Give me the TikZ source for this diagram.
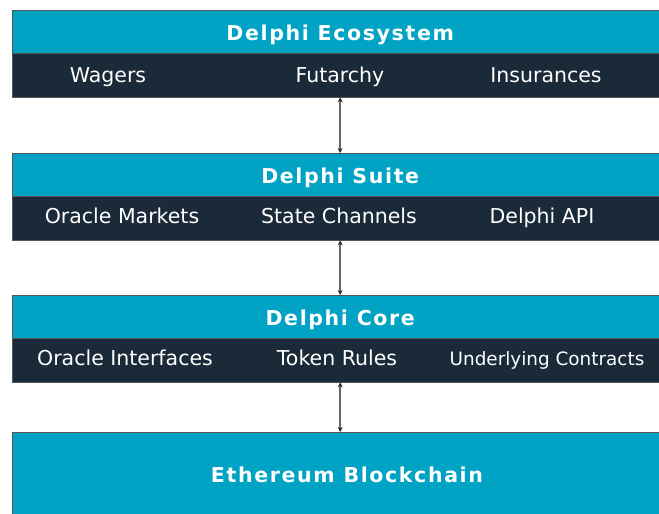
\documentclass[tikz,border=0pt]{standalone}
\usepackage{fontspec}
\setmainfont{DejaVu Sans}
\newfontfamily\titlefont[LetterSpace=8]{DejaVu Sans}
\usetikzlibrary{arrows.meta,positioning}
\definecolor{delphiblue}{HTML}{00A3C4}
\definecolor{delphidark}{HTML}{1B2A38}
\definecolor{edgegray}{HTML}{555555}
\tikzset{
  head/.style={draw=edgegray,fill=delphiblue,text=white,font=\titlefont\fontsize{20.5}{24}\selectfont\bfseries,
    text height=18.8pt,text depth=1.8pt,
    anchor=north west,minimum width=656pt,minimum height=43pt,inner sep=0pt},
  band/.style={draw=edgegray,fill=delphidark,anchor=north west,minimum width=656pt,minimum height=44pt,inner sep=0pt},
  item/.style={text=white,font=\fontsize{20.5}{24}\selectfont,text height=15.8pt,text depth=4.7pt,inner sep=0pt},
  link/.style={draw=black!60,line width=2pt,{Stealth[length=5pt,width=5pt,black!85]}-{Stealth[length=5pt,width=5pt,black!85]}}
}
\begin{document}
\begin{tikzpicture}[x=1pt,y=-1pt]
                \clip (0,0) rectangle (659,514);
                \fill[white] (0,0) rectangle (659,514);
                %% ecosystem
                \node[head] (eco) at (12,10) {Delphi Ecosystem};
                \node[band] (ecoband) at (12,53) {};
                \node[item] (wagers) at (108,76.5) {Wagers};
                \node[item] (futarchy) at (340,76.5) {Futarchy};
                \node[item] (insurances) at (546,76.5) {Insurances};
                %% suite
                \node[head] (suite) at (12,153) {Delphi Suite};
                \node[band] (suiteband) at (12,196) {};
                \node[item] (markets) at (122,217.5) {Oracle Markets};
                \node[item] (channels) at (339,217.5) {State Channels};
                \node[item] (api) at (542,217.5) {Delphi API};
                %% core
                \node[head] (core) at (12,295) {Delphi Core};
                \node[band] (coreband) at (12,338) {};
                \node[item] (interfaces) at (125,359.5) {Oracle Interfaces};
                \node[item] (rules) at (337,359.5) {Token Rules};
                \node[item,font=\fontsize{18.4}{22}\selectfont] (contracts) at (547,359.5) {Underlying Contracts};
                %% blockchain
                \node[head,minimum height=100pt] (eth) at (12,432) {};
                \node[text=white,font=\titlefont\fontsize{20.5}{24}\selectfont\bfseries,
                  text height=18.8pt,text depth=1.8pt,inner sep=0pt] (ethlabel) at (347,473.5) {Ethereum Blockchain};
                %% links
                \draw[link] (ecoband.south) -- (suite.north);
                \draw[link] (suiteband.south) -- (core.north);
                \draw[link] (coreband.south) -- (eth.north);
            \end{tikzpicture}
\end{document}
